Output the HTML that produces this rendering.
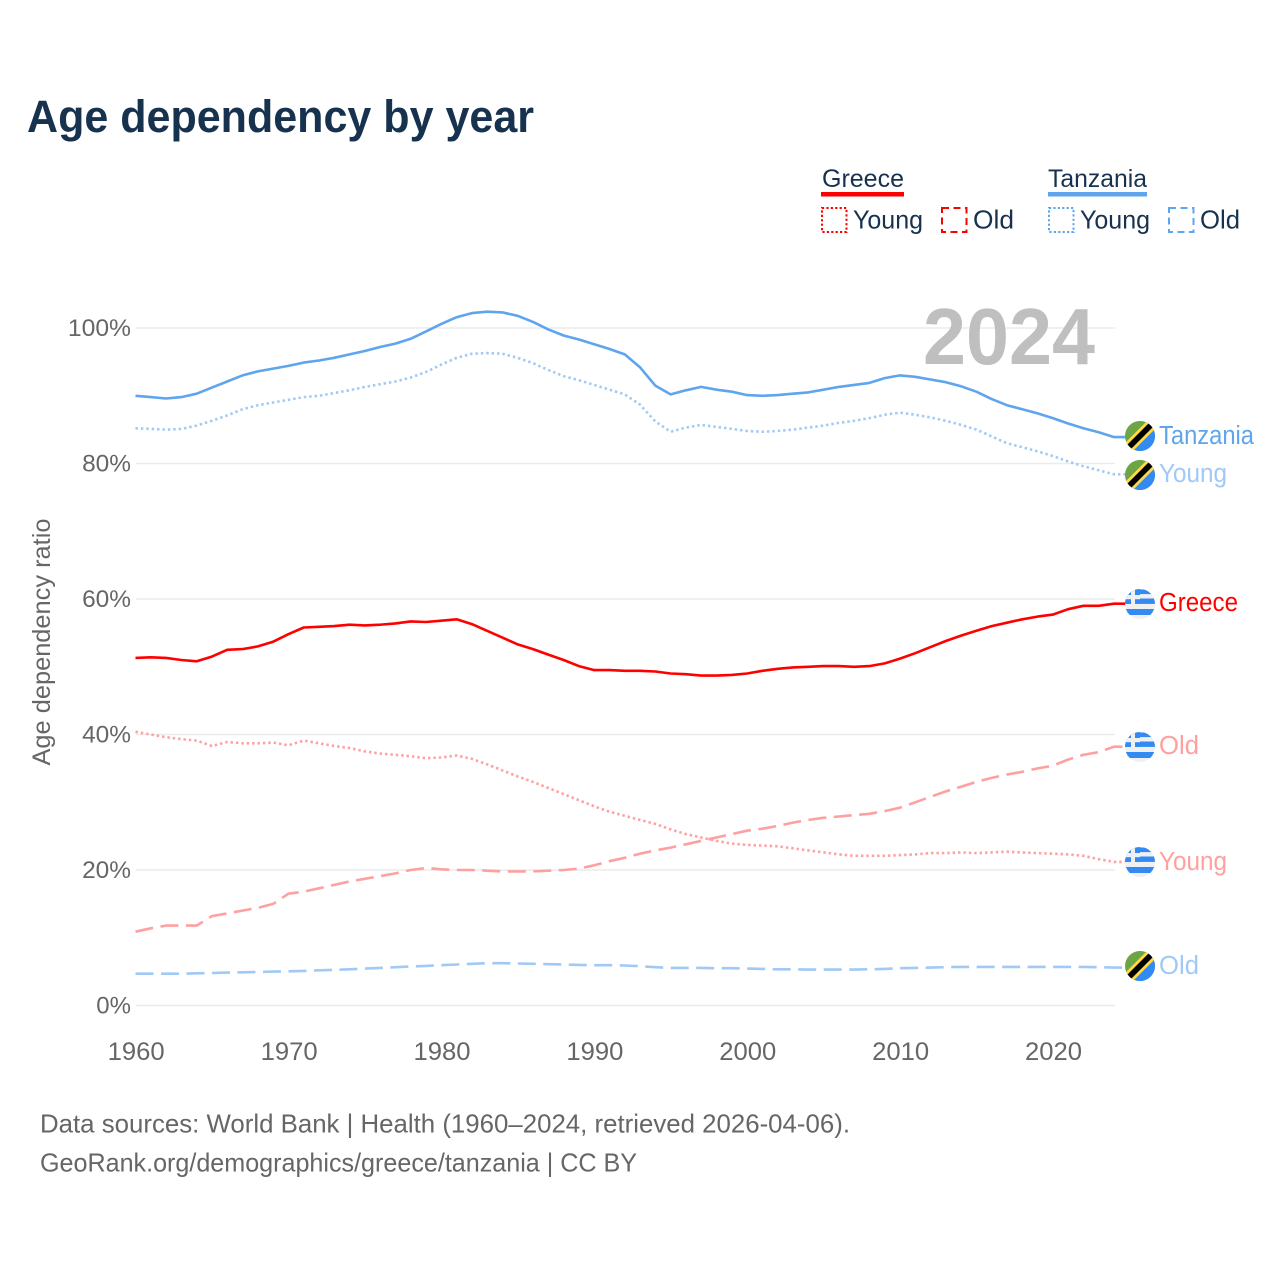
<!DOCTYPE html>
<html lang="en">
<head>
<meta charset="utf-8">
<title>Age dependency by year</title>
<style>
html,body{margin:0;padding:0;background:#fff;width:1280px;height:1280px;overflow:hidden}
svg{display:block;font-family:"Liberation Sans",sans-serif}
</style>
</head>
<body>
<svg id="chart" xmlns="http://www.w3.org/2000/svg" width="1280" height="1280" viewBox="0 0 1280 1280">
<defs>
<clipPath id="flag-clip"><circle cx="15" cy="15" r="15"/></clipPath>
<g id="flag-tz">
<g clip-path="url(#flag-clip)">
<rect width="30" height="30" fill="#6da544"/>
<polygon points="30,0 30,30 0,30" fill="#338af3"/>
<polygon points="24,-2 32,6 6,32 -2,24" fill="#ffda44"/>
<polygon points="26,0 30,4 4,30 0,26" fill="#000"/>
</g>
</g>
<g id="flag-gr">
<g clip-path="url(#flag-clip)">
<rect width="30" height="30" fill="#f0f0f0"/>
<rect y="0.5" width="30" height="4.6" fill="#338af3"/>
<rect y="9.5" width="30" height="5.4" fill="#338af3"/>
<rect y="20" width="30" height="6" fill="#338af3"/>
<rect width="15" height="15" fill="#338af3"/>
<rect x="6" width="4" height="15" fill="#f0f0f0"/>
<rect y="6" width="15" height="4.2" fill="#f0f0f0"/>
</g>
</g>
</defs>

<text x="27" y="132" font-size="45" font-weight="700" fill="#17324f" textLength="507" lengthAdjust="spacingAndGlyphs">Age dependency by year</text>

<g>
<text x="822" y="187" font-size="25" fill="#17324f" textLength="82" lengthAdjust="spacingAndGlyphs">Greece</text>
<rect x="821" y="192" width="83" height="4.5" fill="#ff0000"/>
<rect x="822" y="208" width="24.5" height="24" fill="none" stroke="#ff0000" stroke-width="2" stroke-dasharray="2.2 2.2"/>
<text x="853" y="228.500" font-size="26" fill="#17324f" textLength="70" lengthAdjust="spacingAndGlyphs">Young</text>
<rect x="942" y="208" width="24.5" height="24" fill="none" stroke="#ff0000" stroke-width="2" stroke-dasharray="7 4.5"/>
<text x="973" y="228.500" font-size="26" fill="#17324f" textLength="41" lengthAdjust="spacingAndGlyphs">Old</text>
<text x="1048" y="187" font-size="25" fill="#17324f" textLength="99" lengthAdjust="spacingAndGlyphs">Tanzania</text>
<rect x="1048" y="192" width="99" height="4.5" fill="#5fa5ee"/>
<rect x="1049" y="208" width="24.5" height="24" fill="none" stroke="#5fa5ee" stroke-width="2" stroke-dasharray="2.2 2.2"/>
<text x="1080" y="228.500" font-size="26" fill="#17324f" textLength="70" lengthAdjust="spacingAndGlyphs">Young</text>
<rect x="1169" y="208" width="24.5" height="24" fill="none" stroke="#5fa5ee" stroke-width="2" stroke-dasharray="7 4.5"/>
<text x="1200" y="228.500" font-size="26" fill="#17324f" textLength="40" lengthAdjust="spacingAndGlyphs">Old</text>
</g>

<g id="grid"></g>
<g id="y-ticks"></g>
<g id="x-ticks"></g>

<text transform="translate(50,642) rotate(-90)" text-anchor="middle" font-size="25" fill="#666" textLength="247" lengthAdjust="spacingAndGlyphs">Age dependency ratio</text>

<text x="923" y="364" font-size="80" font-weight="700" fill="#bfbfbf" textLength="172" lengthAdjust="spacingAndGlyphs">2024</text>

<g id="series"></g>
<g id="end-labels"></g>

<text x="40" y="1132.500" font-size="26" fill="#666" textLength="810" lengthAdjust="spacingAndGlyphs">Data sources: World Bank | Health (1960–2024, retrieved 2026-04-06).</text>
<text x="40" y="1171.500" font-size="26" fill="#666" textLength="597" lengthAdjust="spacingAndGlyphs">GeoRank.org/demographics/greece/tanzania | CC BY</text>
</svg>

<script>
const startYear = 1960;
const xTickYears = [1960, 1970, 1980, 1990, 2000, 2010, 2020];
const yTickValues = [0, 20, 40, 60, 80, 100];

const tanzaniaTotal = [90.0,89.8,89.6,89.8,90.3,91.2,92.1,93.0,93.6,94.0,94.4,94.9,95.2,95.6,96.1,96.6,97.2,97.7,98.4,99.5,100.6,101.6,102.2,102.4,102.3,101.8,100.9,99.8,98.9,98.3,97.6,96.9,96.1,94.2,91.5,90.2,90.8,91.3,90.9,90.6,90.1,90.0,90.1,90.3,90.5,90.9,91.3,91.6,91.9,92.6,93.0,92.8,92.4,92.0,91.4,90.6,89.5,88.6,88.0,87.4,86.7,85.9,85.2,84.6,83.9];
const tanzaniaYoung = [85.2,85.1,85.0,85.1,85.6,86.3,87.1,88.0,88.6,89.0,89.4,89.8,90.0,90.4,90.8,91.3,91.7,92.1,92.7,93.5,94.6,95.6,96.2,96.3,96.2,95.6,94.8,93.8,92.9,92.3,91.6,90.9,90.2,88.7,86.2,84.7,85.3,85.7,85.4,85.1,84.8,84.7,84.8,85.0,85.3,85.6,86.0,86.3,86.7,87.2,87.5,87.2,86.8,86.3,85.7,85.0,84.0,83.0,82.4,81.8,81.1,80.3,79.6,79.0,78.4];
const tanzaniaOld = [4.7,4.7,4.7,4.7,4.75,4.8,4.85,4.9,4.95,5.0,5.05,5.1,5.2,5.25,5.35,5.45,5.55,5.65,5.75,5.85,5.95,6.05,6.15,6.25,6.25,6.2,6.15,6.1,6.05,6.0,5.95,5.95,5.9,5.8,5.65,5.55,5.55,5.55,5.5,5.5,5.45,5.4,5.35,5.35,5.3,5.3,5.3,5.3,5.35,5.4,5.5,5.55,5.6,5.65,5.7,5.7,5.7,5.7,5.7,5.7,5.7,5.7,5.7,5.65,5.6];
const greeceTotal = [51.3,51.4,51.3,51.0,50.8,51.5,52.5,52.6,53.0,53.7,54.8,55.8,55.9,56.0,56.2,56.1,56.2,56.4,56.7,56.6,56.8,57.0,56.3,55.3,54.3,53.3,52.6,51.8,51.0,50.1,49.5,49.5,49.4,49.4,49.3,49.0,48.9,48.7,48.7,48.8,49.0,49.4,49.7,49.9,50.0,50.1,50.1,50.0,50.1,50.5,51.2,52.0,52.9,53.8,54.6,55.3,56.0,56.5,57.0,57.4,57.7,58.5,59.0,59.0,59.3];
const greeceYoung = [40.4,40.0,39.6,39.3,39.1,38.3,38.9,38.7,38.7,38.8,38.4,39.1,38.7,38.3,38.0,37.5,37.2,37.0,36.8,36.5,36.6,36.9,36.4,35.6,34.7,33.8,33.0,32.1,31.2,30.3,29.4,28.6,28.0,27.4,26.8,26.0,25.3,24.8,24.3,23.9,23.7,23.6,23.5,23.2,22.9,22.6,22.3,22.1,22.1,22.1,22.2,22.3,22.5,22.5,22.6,22.5,22.6,22.7,22.6,22.5,22.4,22.3,22.1,21.6,21.2];
const greeceOld = [10.9,11.4,11.8,11.8,11.8,13.2,13.6,14.0,14.4,15.0,16.5,16.8,17.3,17.8,18.3,18.7,19.1,19.5,20.0,20.3,20.1,20.0,20.0,19.9,19.8,19.8,19.8,19.9,20.0,20.2,20.7,21.3,21.8,22.4,22.9,23.3,23.8,24.3,24.8,25.3,25.8,26.1,26.5,27.0,27.4,27.7,27.9,28.1,28.3,28.7,29.2,30.0,30.8,31.6,32.3,33.0,33.6,34.1,34.5,35.0,35.4,36.3,37.0,37.4,38.2];

const NS = 'http://www.w3.org/2000/svg';
const xScale = year => 135.5 + (year - 1960) * (1114 - 135.5) / 64;
const yScale = pct => 1005.5 - pct * 6.775;

function make(tag, attrs, parent) {
  const el = document.createElementNS(NS, tag);
  for (const k in attrs) el.setAttribute(k, attrs[k]);
  parent.appendChild(el);
  return el;
}

const grid = document.getElementById('grid');
const yTicks = document.getElementById('y-ticks');
yTickValues.forEach(v => {
  const line = make('line', {x1: 136, x2: 1115, y1: yScale(v), y2: yScale(v), stroke: '#ebebeb', 'stroke-width': 1.5}, grid);
  
  
  const label = make('text', {x: 131, y: yScale(v) + 8, 'text-anchor': 'end', 'font-size': 24.5, fill: '#666', textLength: String(v).length * 14.2 + 20.5, lengthAdjust: 'spacingAndGlyphs'}, yTicks);
  label.textContent = v + '%';
  
  
});

const xTicks = document.getElementById('x-ticks');
xTickYears.forEach(y => {
  const label = make('text', {x: xScale(y) + 0.7, y: 1060, 'text-anchor': 'middle', 'font-size': 25, fill: '#666', textLength: 57, lengthAdjust: 'spacingAndGlyphs'}, xTicks);
  label.textContent = y;
  
  
});

const seriesList = [
  {name: 'tanzania-total', values: tanzaniaTotal, color: '#5fa5ee', dash: null, width: 2.6, flag: 'flag-tz', label: 'Tanzania', labelW: 95, flagY: 436, labelY: 444},
  {name: 'tanzania-young', values: tanzaniaYoung, color: '#a0c9f5', dash: '2.4 3', width: 2.6, flag: 'flag-tz', label: 'Young', labelW: 68, flagY: 475, labelY: 482},
  {name: 'tanzania-old', values: tanzaniaOld, color: '#a0c9f5', dash: '18 7.5', width: 2.6, flag: 'flag-tz', label: 'Old', labelW: 40, flagY: 966, labelY: 974},
  {name: 'greece-total', values: greeceTotal, color: '#ff0000', dash: null, width: 2.6, flag: 'flag-gr', label: 'Greece', labelW: 79, flagY: 604, labelY: 611},
  {name: 'greece-young', values: greeceYoung, color: '#ffa0a0', dash: '2.4 3', width: 2.6, flag: 'flag-gr', label: 'Young', labelW: 68, flagY: 862, labelY: 870},
  {name: 'greece-old', values: greeceOld, color: '#ffa0a0', dash: '18 7.5', width: 2.6, flag: 'flag-gr', label: 'Old', labelW: 40, flagY: 747, labelY: 754}
];

const seriesGroup = document.getElementById('series');
const labelGroup = document.getElementById('end-labels');
seriesList.forEach(s => {
  const pts = s.values.map((v, i) => xScale(startYear + i).toFixed(1) + ',' + yScale(v).toFixed(1));
  pts.push('1126,' + yScale(s.values[s.values.length - 1]).toFixed(1));
  const attrs = {points: pts.join(' '), fill: 'none', stroke: s.color, 'stroke-width': s.width, 'stroke-linejoin': 'round'};
  if (s.dash) attrs['stroke-dasharray'] = s.dash;
  const line = make('polyline', attrs, seriesGroup);
  
  

  const flag = make('use', {href: '#' + s.flag, x: 1125, y: s.flagY - 15}, labelGroup);
  
  

  const text = make('text', {x: 1159, y: s.labelY, 'font-size': 25.5, fill: s.color, textLength: s.labelW, lengthAdjust: 'spacingAndGlyphs'}, labelGroup);
  text.textContent = s.label;
  
  
});
</script>
</body>
</html>
